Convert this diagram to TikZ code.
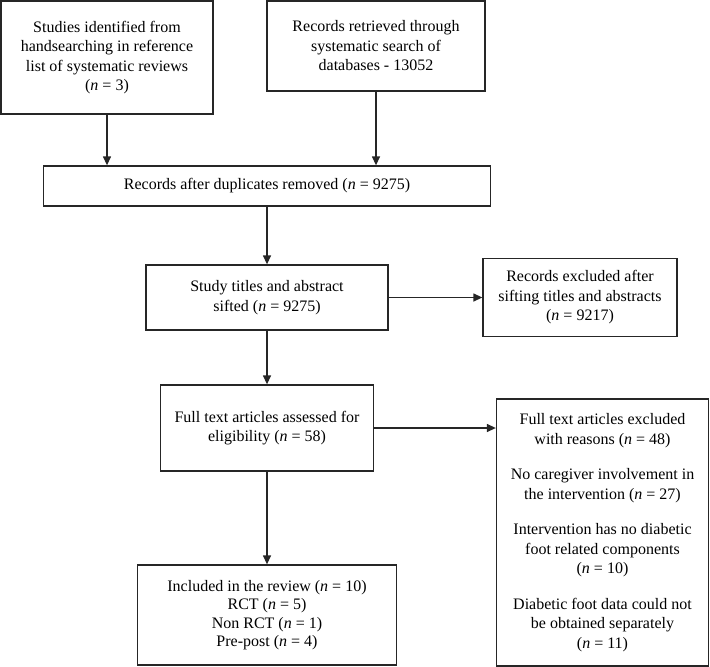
\documentclass[tikz,border=0pt]{standalone}
\usepackage{fontspec}
\setmainfont{Liberation Serif}
\usetikzlibrary{arrows.meta}
\tikzset{
  box/.style={draw=black!85, line width=1.3pt, inner sep=0pt, align=center,
    font=\fontsize{16}{19.5}\selectfont},
  arr/.style={draw=black!85, line width=1.3pt, -{Stealth[length=9pt,width=8pt,inset=0pt]}}
}
\newcommand{\nn}{\textit{n}}
\begin{document}
\begin{tikzpicture}[x=1pt,y=1pt]
\useasboundingbox (0,0) rectangle (710,-667);
\node[box, minimum width=212pt, minimum height=113pt] (b1) at (107,-57.5)
  {Studies identified from\\handsearching in reference\\list of systematic reviews\\(\nn{} = 3)};
\node[box, minimum width=218pt, minimum height=90pt] (b2) at (376,-46)
  {Records retrieved through\\systematic search of\\databases - 13052};
\node[box, minimum width=447pt, minimum height=40pt] (b3) at (267,-186)
  {Records after duplicates removed (\nn{} = 9275)};
\node[box, minimum width=242pt, minimum height=65pt] (b4) at (267,-297.5)
  {Study titles and abstract\\sifted (\nn{} = 9275)};
\node[box, minimum width=194pt, minimum height=78pt] (b5) at (580,-297.5)
  {Records excluded after\\sifting titles and abstracts\\(\nn{} = 9217)};
\node[box, minimum width=213pt, minimum height=86pt] (b6) at (267,-428)
  {Full text articles assessed for\\eligibility (\nn{} = 58)};
\node[box, minimum width=212pt, minimum height=267pt] (b7) at (602.5,-532.5)
  {Full text articles excluded\\with reasons (\nn{} = 48)\\[16pt]
   No caregiver involvement in\\the intervention (\nn{} = 27)\\[16pt]
   Intervention has no diabetic\\foot related components\\(\nn{} = 10)\\[16pt]
   Diabetic foot data could not\\be obtained separately\\(\nn{} = 11)};
\node[box, minimum width=259pt, minimum height=100pt,
  font=\fontsize{16}{18.5}\selectfont] (b8) at (267,-615)
  {Included in the review (\nn{} = 10)\\RCT (\nn{} = 5)\\Non RCT (\nn{} = 1)\\Pre-post (\nn{} = 4)};
\draw[arr] (b1.south) -- (b1.south |- b3.north);
\draw[arr] (b2.south) -- (b2.south |- b3.north);
\draw[arr] (b3.south) -- (b4.north);
\draw[arr] (b4.east) -- (b5.west);
\draw[arr] (b4.south) -- (b6.north);
\draw[arr] (b6.east) -- (b6.east -| b7.west);
\draw[arr] (b6.south) -- (b8.north);
\end{tikzpicture}
\end{document}
